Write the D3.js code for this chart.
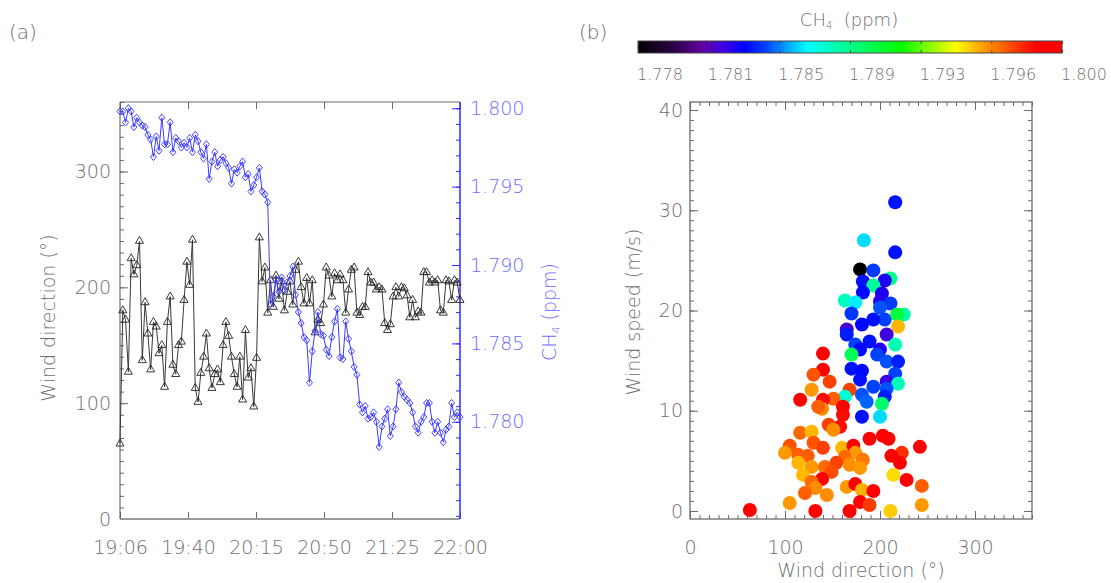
<!DOCTYPE html>
<html><head><meta charset="utf-8">
<script src="https://cdn.jsdelivr.net/npm/d3@7"></script>
<style>
body{margin:0;background:#fff}
svg text{font-family:"DejaVu Sans","Liberation Sans",Arial,sans-serif;font-weight:200}
</style>
</head><body>
<svg id="c" width="1111" height="583"></svg>
<script>
// ---------------- DATA ----------------
const timeTickLabels = ["19:06","19:40","20:15","20:50","21:25","22:00"];
const timeSpanMinutes = 174;
const windDirTicks = [0,100,200,300];
const ch4AxisTicks = [1.780,1.785,1.790,1.795,1.800];
const windDirSeries = [65,180,172,127,225,211,219,240,137,187,
160,129,170,166,143,150,114,170,192,133,
125,150,153,189,222,202,241,113,101,126,
140,160,130,113,125,129,118,150,170,158,
140,125,114,140,103,163,122,130,97,139,
243,205,217,178,206,183,210,190,205,180,
196,205,185,215,222,200,186,208,186,206,
161,172,169,185,217,210,192,212,206,211,
206,178,198,215,217,178,176,183,183,213,
204,204,198,200,198,169,163,168,192,200,
192,200,199,193,174,189,174,179,178,213,
213,204,206,204,206,180,178,206,205,189,
206,204,189];
const ch4Series = [1.7998,1.7998,1.7991,1.8000,1.7998,1.7988,1.7994,1.7991,1.7989,1.7988,
1.7983,1.7980,1.7969,1.7982,1.7973,1.7994,1.7977,1.7977,1.7991,1.7972,
1.7981,1.7979,1.7975,1.7978,1.7975,1.7981,1.7972,1.7983,1.7979,1.7972,
1.7968,1.7977,1.7955,1.7966,1.7972,1.7963,1.7967,1.7969,1.7965,1.7962,
1.7952,1.7961,1.7959,1.7963,1.7966,1.7956,1.7958,1.7947,1.7951,1.7956,
1.7962,1.7947,1.7945,1.7940,
1.7875,1.7880,1.7891,1.7883,1.7892,1.7884,1.7889,1.7893,1.7899,1.7881,
1.7870,1.7863,1.7854,1.7852,1.7825,1.7845,1.7858,1.7870,1.7856,1.7855,
1.7846,1.7842,1.7854,1.7864,1.7872,1.7841,1.7840,1.7864,1.7853,1.7845,
1.7835,1.7830,1.7811,1.7806,1.7810,1.7802,1.7803,1.7806,1.7800,1.7784,
1.7797,1.7802,1.7808,1.7791,1.7797,1.7808,1.7825,1.7819,1.7816,1.7814,
1.7812,1.7806,1.7797,1.7793,1.7800,1.7803,1.7812,1.7812,1.7800,1.7793,
1.7800,1.7793,1.7787,1.7795,1.7797,1.7812,1.7803,1.7806,1.7803];

const scatterDir = [216,183,216,179,193,211,205,182,193,182,202,163,174,200,211,170,200,205,225,218,
219,193,181,165,165,207,174,189,216,179,200,197,170,140,207,219,170,181,216,140,
130,179,207,219,147,193,207,168,128,181,205,163,151,140,116,186,161,139,135,202,
161,181,200,146,158,151,116,128,189,203,209,242,130,140,105,100,160,172,223,114,
124,174,163,212,182,221,114,128,142,154,168,179,149,119,139,214,228,128,132,165,
174,181,193,121,144,244,105,179,189,244,63,132,168,211];
const scatterSpeed = [30.8,27.0,25.8,24.1,24.0,23.2,23.0,22.9,22.5,21.8,21.7,21.0,20.8,20.9,20.7,19.7,20.3,19.1,19.6,19.6,
18.4,19.1,18.6,18.1,17.6,17.6,16.6,16.9,16.6,16.1,16.1,15.6,15.6,15.7,14.9,14.9,14.2,14.0,13.7,14.1,
13.6,13.1,12.9,12.7,12.9,12.4,12.2,12.1,12.1,11.6,11.4,11.4,11.2,11.1,11.1,10.9,10.4,10.2,10.4,10.7,
9.6,9.4,9.4,8.6,8.4,8.1,7.8,7.9,7.2,7.5,7.2,6.4,6.8,6.3,6.5,5.8,6.3,6.5,5.8,5.6,
5.5,5.8,5.4,5.5,5.1,4.8,4.8,4.4,4.4,4.8,4.6,4.3,3.9,3.6,3.2,3.6,3.1,2.9,2.3,2.4,
2.7,2.1,2.0,1.8,1.6,2.5,0.8,0.9,0.6,0.6,0.1,0.0,0.0,0.0];
const scatterCH4 = [1.7838,1.7864,1.7838,1.7780,1.7845,1.7890,1.7830,1.7838,1.7888,1.7836,1.7830,1.7880,1.7866,1.7828,1.7845,1.7844,1.7848,1.7846,1.7884,1.7905,
1.7955,1.7838,1.7836,1.7822,1.7840,1.7824,1.7846,1.7838,1.7882,1.7836,1.7830,1.7846,1.7900,1.7990,1.7848,1.7840,1.7838,1.7836,1.7846,1.7988,
1.7972,1.7838,1.7825,1.7880,1.7975,1.7846,1.7848,1.7975,1.7960,1.7848,1.7840,1.7876,1.7970,1.7985,1.7988,1.7850,1.7988,1.7962,1.7970,1.7895,
1.7985,1.7838,1.7864,1.7975,1.7985,1.7962,1.7968,1.7955,1.7992,1.7990,1.7988,1.7990,1.7972,1.7975,1.7972,1.7960,1.7955,1.7990,1.7978,1.7970,
1.7970,1.7960,1.7968,1.7988,1.7966,1.7990,1.7955,1.7960,1.7968,1.7975,1.7962,1.7960,1.7973,1.7955,1.7988,1.7950,1.7992,1.7968,1.7962,1.7960,
1.7992,1.7956,1.7992,1.7970,1.7962,1.7970,1.7960,1.7992,1.7976,1.7960,1.7992,1.7994,1.7992,1.7952];

const speedTicks = [0,10,20,30,40];
const dirTicksB = [0,100,200,300];
const colorbarDomain = [1.778,1.800];
const colorbarLabels = ["1.778","1.781","1.785","1.789","1.793","1.796","1.800"];
const colorStopT   = [0,0.08,0.15,0.2,0.25,0.3,0.35,0.4,0.48,0.55,0.62,0.7,0.75,0.8,0.85,0.9,0.94,1];
const colorStopHex = ["#000000","#2a0040","#6000a0","#4000e0","#0000ff","#0040ff","#00a0ff","#00ffff","#00ffa0","#00ff50","#00ff00","#a0ff00","#ffff00","#ffb000","#ff7000","#ff3000","#ff0000","#ff0000"];

// ---------------- STYLE ----------------
const AX = "#6a6a6a", TX = "#6e6e6e", BL = "#2b2bff", BLT = "#6b6bff", FS = 19;
const svg = d3.select("#c");

// ---------------- PANEL A ----------------
const xa = d3.scaleLinear().domain([0, timeSpanMinutes]).range([120, 460]);
const ya = d3.scaleLinear().domain([0, 360]).range([519, 102]);
const yc = d3.scaleLinear().domain([1.7738, 1.8004]).range([519, 102]);
const tOf = i => i * timeSpanMinutes / (windDirSeries.length - 1);
const timeTicks = timeTickLabels.map((_, i) => i * timeSpanMinutes / (timeTickLabels.length - 1));

function styleAxis(g, col, tcol) {
  g.select(".domain").remove();
  g.selectAll("line").attr("stroke", col).attr("stroke-width", 1);
  g.selectAll("text").attr("fill", tcol).style("font-size", FS + "px");
}

svg.append("g").attr("transform", "translate(120,0)")
  .call(d3.axisLeft(ya).tickValues(d3.range(0, 361, 10)).tickSizeInner(-4).tickSizeOuter(0).tickFormat(""))
  .call(g => styleAxis(g, AX, TX));
svg.append("g").attr("transform", "translate(120,0)")
  .call(d3.axisLeft(ya).tickValues(windDirTicks).tickSizeInner(-8).tickSizeOuter(0).tickPadding(9).tickFormat(d3.format("d")))
  .call(g => styleAxis(g, AX, TX));
svg.append("g").attr("transform", "translate(460,0)")
  .call(d3.axisRight(yc).tickValues(d3.range(1.774, 1.8005, 0.001)).tickSizeInner(-4).tickSizeOuter(0).tickFormat(""))
  .call(g => styleAxis(g, BL, BLT));
svg.append("g").attr("transform", "translate(460,0)")
  .call(d3.axisRight(yc).tickValues(ch4AxisTicks).tickSizeInner(-8).tickSizeOuter(0).tickPadding(10).tickFormat(d3.format(".3f")))
  .call(g => styleAxis(g, BL, BLT));
svg.append("g").attr("transform", "translate(0,519)")
  .call(d3.axisBottom(xa).tickValues(timeTicks).tickSizeInner(-7).tickSizeOuter(0).tickPadding(22).tickFormat((d, i) => timeTickLabels[i]))
  .call(g => styleAxis(g, AX, TX));
svg.append("g").attr("transform", "translate(0,102)")
  .call(d3.axisTop(xa).tickValues(timeTicks).tickSizeInner(-7).tickSizeOuter(0).tickFormat(""))
  .call(g => styleAxis(g, AX, TX));
svg.append("line").attr("x1",120).attr("x2",460).attr("y1",519).attr("y2",519).attr("stroke","#9a9a9a").attr("stroke-width",2);
svg.append("line").attr("x1",120).attr("x2",460).attr("y1",102).attr("y2",102).attr("stroke",AX);
svg.append("line").attr("x1",120).attr("x2",120).attr("y1",102).attr("y2",519).attr("stroke","#555");
svg.append("line").attr("x1",460).attr("x2",460).attr("y1",102).attr("y2",519).attr("stroke",BL).attr("stroke-width",1.5);

const pa = svg.append("g");
pa.append("path").datum(windDirSeries)
  .attr("d", d3.line().x((d, i) => xa(tOf(i))).y(d => ya(d)))
  .attr("fill", "none").attr("stroke", "#3a3a3a").attr("stroke-width", 1);
pa.selectAll(".tri").data(windDirSeries).join("path")
  .attr("transform", (d, i) => `translate(${xa(tOf(i))},${ya(d)})`)
  .attr("d", d3.symbol(d3.symbolTriangle, 28))
  .attr("fill", "none").attr("stroke", "#222").attr("stroke-width", 0.9);
const tOf2 = i => i * timeSpanMinutes / (ch4Series.length - 1);
pa.append("path").datum(ch4Series)
  .attr("d", d3.line().x((d, i) => xa(tOf2(i))).y(d => yc(d)))
  .attr("fill", "none").attr("stroke", "#3c3cff").attr("stroke-width", 1);
pa.selectAll(".dia").data(ch4Series).join("path")
  .attr("transform", (d, i) => `translate(${xa(tOf2(i))},${yc(d)})`)
  .attr("d", "M0,-3.6L3,0L0,3.6L-3,0Z")
  .attr("fill", "none").attr("stroke", "#3030ff").attr("stroke-width", 0.9);

svg.append("text").attr("x", 9).attr("y", 39).attr("fill", TX).style("font-size", "20px").text("(a)");
svg.append("text").attr("transform", "translate(55,318) rotate(-90)").attr("text-anchor", "middle")
  .attr("fill", TX).style("font-size", FS + "px").text("Wind direction (°)");
const ct = svg.append("text").attr("transform", "translate(556,312) rotate(-90)").attr("text-anchor", "middle")
  .attr("fill", BLT).style("font-size", FS + "px");
ct.append("tspan").text("CH");
ct.append("tspan").attr("dy", 4).style("font-size", "11px").text("4");
ct.append("tspan").attr("dy", -4).text(" (ppm)");

// ---------------- PANEL B ----------------
const xb = d3.scaleLinear().domain([0, 360]).range([690, 1032]);
const yb = d3.scaleLinear().domain([-0.8, 40.8]).range([519, 102]);
const cmap = d3.scaleLinear()
  .domain(colorStopT.map(t => colorbarDomain[0] + t * (colorbarDomain[1] - colorbarDomain[0])))
  .range(colorStopHex).clamp(true);

svg.append("g").attr("transform", "translate(690,0)")
  .call(d3.axisLeft(yb).tickValues(d3.range(0, 40.5, 1)).tickSizeInner(-4).tickSizeOuter(0).tickFormat(""))
  .call(g => styleAxis(g, AX, TX));
svg.append("g").attr("transform", "translate(690,0)")
  .call(d3.axisLeft(yb).tickValues(speedTicks).tickSizeInner(-8).tickSizeOuter(0).tickPadding(7).tickFormat(d3.format("d")))
  .call(g => styleAxis(g, AX, TX));
svg.append("g").attr("transform", "translate(1032,0)")
  .call(d3.axisRight(yb).tickValues(d3.range(0, 40.5, 1)).tickSizeInner(-4).tickSizeOuter(0).tickFormat(""))
  .call(g => styleAxis(g, AX, TX));
svg.append("g").attr("transform", "translate(1032,0)")
  .call(d3.axisRight(yb).tickValues(speedTicks).tickSizeInner(-8).tickSizeOuter(0).tickFormat(""))
  .call(g => styleAxis(g, AX, TX));
svg.append("g").attr("transform", "translate(0,519)")
  .call(d3.axisBottom(xb).tickValues(d3.range(0, 361, 10)).tickSizeInner(-4).tickSizeOuter(0).tickFormat(""))
  .call(g => styleAxis(g, AX, TX));
svg.append("g").attr("transform", "translate(0,519)")
  .call(d3.axisBottom(xb).tickValues(dirTicksB).tickSizeInner(-8).tickSizeOuter(0).tickPadding(22).tickFormat(d3.format("d")))
  .call(g => styleAxis(g, AX, TX));
svg.append("g").attr("transform", "translate(0,102)")
  .call(d3.axisTop(xb).tickValues(d3.range(0, 361, 10)).tickSizeInner(-4).tickSizeOuter(0).tickFormat(""))
  .call(g => styleAxis(g, AX, TX));
svg.append("g").attr("transform", "translate(0,102)")
  .call(d3.axisTop(xb).tickValues(dirTicksB).tickSizeInner(-8).tickSizeOuter(0).tickFormat(""))
  .call(g => styleAxis(g, AX, TX));
svg.append("rect").attr("x", 690).attr("y", 102).attr("width", 342).attr("height", 417)
  .attr("fill", "none").attr("stroke", AX).attr("stroke-width", 1.3);

svg.append("g").selectAll("circle").data(scatterDir.map((d, i) => ({d, s: scatterSpeed[i], c: scatterCH4[i]})))
  .join("circle")
  .attr("cx", p => xb(p.d)).attr("cy", p => yb(p.s)).attr("r", 7)
  .attr("fill", p => cmap(p.c));

svg.append("text").attr("x", 579).attr("y", 39).attr("fill", TX).style("font-size", "20px").text("(b)");
svg.append("text").attr("transform", "translate(640,312) rotate(-90)").attr("text-anchor", "middle")
  .attr("fill", TX).style("font-size", FS + "px").text("Wind speed (m/s)");
svg.append("text").attr("x", 861).attr("y", 577).attr("text-anchor", "middle")
  .attr("fill", TX).style("font-size", FS + "px").text("Wind direction (°)");

// colorbar
const cbX = d3.scaleLinear().domain(colorbarDomain).range([638, 1062]);
const grad = svg.append("defs").append("linearGradient").attr("id", "cbg");
colorStopT.forEach((t, i) => grad.append("stop").attr("offset", (t * 100) + "%").attr("stop-color", colorStopHex[i]));
svg.append("rect").attr("x", 638).attr("y", 41).attr("width", 424).attr("height", 12)
  .attr("fill", "url(#cbg)").attr("stroke", "#444").attr("stroke-width", 1);
const cbTickVals = colorbarLabels.map((_, i) => colorbarDomain[0] + i * (colorbarDomain[1] - colorbarDomain[0]) / (colorbarLabels.length - 1));
svg.append("g").attr("transform", "translate(0,53)")
  .call(d3.axisBottom(cbX).tickValues(cbTickVals).tickSizeInner(-3).tickSizeOuter(0).tickFormat(""))
  .call(g => styleAxis(g, "#444", TX));
svg.append("g").attr("transform", "translate(0,41)")
  .call(d3.axisTop(cbX).tickValues(cbTickVals).tickSizeInner(-3).tickSizeOuter(0).tickFormat(""))
  .call(g => styleAxis(g, "#444", TX));
svg.append("g").selectAll("text").data(cbTickVals).join("text")
  .attr("x", d => cbX(d) - 1).attr("y", 80).attr("fill", TX).style("font-size", "16px")
  .text((d, i) => colorbarLabels[i]);
const cbt = svg.append("text").attr("x", 849).attr("y", 26).attr("text-anchor", "middle")
  .attr("fill", TX).style("font-size", "18px");
cbt.append("tspan").text("CH");
cbt.append("tspan").attr("dy", 3).style("font-size", "10px").text("4");
cbt.append("tspan").attr("dy", -3).attr("xml:space", "preserve").text("  (ppm)");
</script>
</body></html>
